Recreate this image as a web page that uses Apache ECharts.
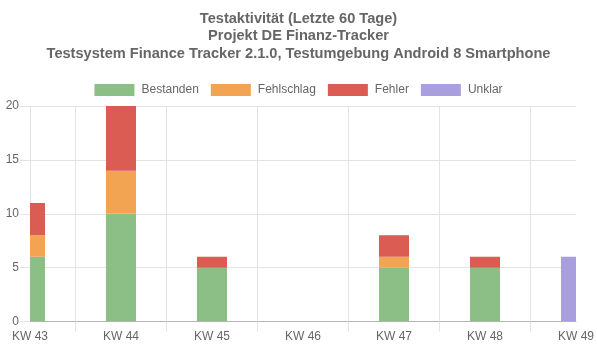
<!DOCTYPE html>
<html>
<head>
<meta charset="utf-8">
<script src="https://cdn.jsdelivr.net/npm/echarts@6/dist/echarts.min.js"></script>
<style>
  html, body { margin: 0; padding: 0; background: #fff; }
  #chart { width: 597px; height: 352px; }
</style>
</head>
<body>
<div id="chart"></div>
<script>
// weeks
var categories = ['KW 43', 'KW 44', 'KW 45', 'KW 46', 'KW 47', 'KW 48', 'KW 49']
// test results per week
var bestanden = [6, 10, 5, 0, 5, 5, 0]
var fehlschlag = [2, 4, 0, 0, 1, 0, 0]
var fehler = [3, 6, 1, 0, 2, 1, 0]
var unklar = [0, 0, 0, 0, 0, 0, 6]
var yTicks = [0, 5, 10, 15, 20]

var gridColor = '#e3e3e3'
var textColor = '#666'
var font = 'Arial, "Liberation Sans", sans-serif'
var BAR_WIDTH = 30

var chart = echarts.init(document.getElementById('chart'))

// bars sit on the week ticks and get cut at the plot edges,
// the built-in bar series won't clip there, so draw them as custom rects
function renderBar(params, api) {
  var base = api.value(1)
  var top = api.value(2)
  if (top <= base) return null
  var p0 = api.coord([api.value(0), base])
  var p1 = api.coord([api.value(0), top])
  var cs = params.coordSys
  var shape = echarts.graphic.clipRectByRect({
    x: p0[0] - BAR_WIDTH / 2,
    y: p1[1],
    width: BAR_WIDTH,
    height: p0[1] - p1[1]
  }, { x: cs.x, y: cs.y, width: cs.width, height: cs.height })
  if (!shape) return null
  return { type: 'rect', shape: shape, style: { fill: api.visual('color') } }
}

var stackBase = categories.map(function () { return 0 })

function barSeries(name, values, color) {
  var rows = values.map(function (v, i) {
    var row = [categories[i], stackBase[i], stackBase[i] + v]
    stackBase[i] += v
    return row
  })
  return {
    name: name,
    type: 'custom',
    renderItem: renderBar,
    data: rows,
    encode: { x: 0, y: [1, 2] },
    itemStyle: { color: color },
    clip: true
  }
}

var series = [
  barSeries('Bestanden', bestanden, '#8cbf86'),
  barSeries('Fehlschlag', fehlschlag, '#f3a453'),
  barSeries('Fehler', fehler, '#da5c53'),
  barSeries('Unklar', unklar, '#a99fdf')
]

chart.setOption({
  animation: false,
  title: {
    text: 'Testaktivität (Letzte 60 Tage)\nProjekt DE Finanz-Tracker\nTestsystem Finance Tracker 2.1.0, Testumgebung Android 8 Smartphone',
    left: 'center',
    top: 5,
    textStyle: {
      color: textColor,
      fontFamily: font,
      fontWeight: 'bold',
      fontSize: 14.6,
      lineHeight: 17.5
    }
  },
  legend: {
    top: 79,
    left: 'center',
    itemWidth: 40,
    itemHeight: 12,
    itemGap: 12,
    icon: 'rect',
    textStyle: { color: textColor, fontFamily: font, fontSize: 12, padding: [0, 0, 0, 2] },
    data: ['Bestanden', 'Fehlschlag', 'Fehler', 'Unklar']
  },
  grid: [
    { left: 30, right: 21, top: 106, bottom: 30.5, containLabel: false },
    // helper grid offset by half a week, only for the vertical grid lines
    { left: 75.5, right: 66.5, top: 106, bottom: 30.5, containLabel: false }
  ],
  xAxis: [
    {
      type: 'category',
      gridIndex: 0,
      data: categories,
      boundaryGap: false,
      axisLine: { lineStyle: { color: '#b5b5b5' } },
      axisTick: { show: false },
      splitLine: { show: false },
      axisLabel: { color: textColor, fontFamily: font, fontSize: 12, margin: 9 }
    },
    {
      type: 'category',
      gridIndex: 1,
      data: ['', '', '', '', ''],
      boundaryGap: true,
      axisLine: { show: false },
      axisLabel: { show: false },
      axisTick: { show: true, length: 10, lineStyle: { color: gridColor } },
      splitLine: { show: true, lineStyle: { color: gridColor } }
    }
  ],
  yAxis: [
    {
      type: 'value',
      gridIndex: 0,
      min: yTicks[0],
      max: yTicks[yTicks.length - 1],
      interval: 5,
      axisLine: { show: true, lineStyle: { color: gridColor } },
      axisTick: { show: true, length: 10, lineStyle: { color: gridColor } },
      splitLine: { lineStyle: { color: gridColor } },
      axisLabel: { color: textColor, fontFamily: font, fontSize: 12, margin: 11 }
    },
    {
      type: 'value',
      gridIndex: 1,
      min: 0,
      max: 20,
      show: false
    }
  ],
  series: series
})
</script>
</body>
</html>
